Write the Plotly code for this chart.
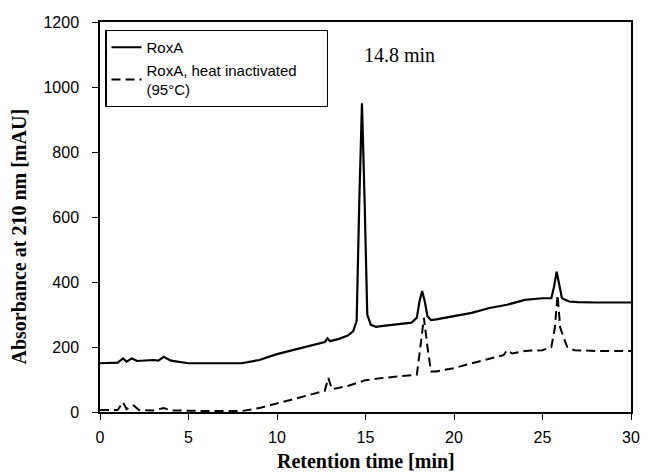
import plotly.graph_objects as go

# RoxA (solid)
t_roxa = [0, 1.0, 1.3, 1.5, 1.8, 2.1, 3.0, 3.3, 3.6, 4.0, 5, 6, 7, 8, 9, 10, 11, 12, 12.7, 12.85, 13.0,
          13.5, 14.0, 14.3, 14.5, 14.65, 14.8, 14.95, 15.1, 15.3, 15.6, 16, 17, 17.6, 17.9, 18.05, 18.2,
          18.35, 18.5, 18.7, 19, 20, 21, 22, 23, 24, 25, 25.5, 25.65, 25.8, 25.95, 26.1, 26.5, 27, 28, 29, 30]
y_roxa = [150, 152, 165, 155, 165, 157, 160, 158, 170, 158, 150, 150, 150, 150, 160, 178, 192, 206, 215, 227, 218,
          225, 235, 248, 280, 650, 950, 650, 300, 268, 262, 265, 270, 275, 290, 340, 372,
          340, 295, 283, 285, 295, 305, 320, 330, 345, 350, 350, 385, 432, 385, 350, 340, 338, 337, 337, 337]

# RoxA, heat inactivated (dashed)
t_heat = [0, 1.0, 1.3, 1.5, 1.9, 2.2, 3.0, 3.6, 4.0, 5, 6, 7, 8, 9, 10, 11, 12, 12.7, 12.9, 13.1, 14, 15, 16,
          17, 17.9, 18.1, 18.3, 18.5, 18.7, 19, 20, 21, 22, 22.8, 23.0, 23.3, 24, 25, 25.5, 25.7, 25.85,
          26.0, 26.2, 26.4, 26.8, 28, 30]
y_heat = [6, 6, 30, 9, 20, 6, 5, 12, 5, 3, 3, 3, 3, 12, 26, 42, 56, 65, 105, 70, 80, 98, 105,
          110, 115, 200, 290, 200, 125, 125, 135, 150, 165, 175, 190, 180, 188, 190, 200, 260, 360,
          260, 228, 200, 190, 188, 188]

x_ticks = [0, 5, 10, 15, 20, 25, 30]
y_ticks = [0, 200, 400, 600, 800, 1000, 1200]

fig = go.Figure()
fig.add_trace(go.Scatter(x=t_roxa, y=y_roxa, mode="lines", name="RoxA",
                         line=dict(color="black", width=2.2, dash="solid")))
fig.add_trace(go.Scatter(x=t_heat, y=y_heat, mode="lines",
                         name="RoxA, heat inactivated\u00a0\u00a0\u00a0\u00a0\u00a0\u00a0<br>(95°C)",
                         line=dict(color="black", width=2, dash="9px,5px")))

fig.add_annotation(x=16.9, y=1100, xref="x", yref="y", text="14.8 min", showarrow=False,
                   xanchor="center", yanchor="middle",
                   font=dict(family="Liberation Serif", size=20, color="black"))

# axis titles as annotations for precise placement
fig.add_annotation(x=0.5, y=0, xref="paper", yref="paper", yshift=-49, text="<b>Retention time [min]</b>",
                   showarrow=False, xanchor="center", yanchor="middle",
                   font=dict(family="Liberation Serif", size=20, color="black"))
fig.add_annotation(x=0, y=0.45, xref="paper", yref="paper", xshift=-82, text="<b>Absorbance at 210 nm [mAU]</b>",
                   showarrow=False, xanchor="center", yanchor="middle", textangle=-90,
                   font=dict(family="Liberation Serif", size=20, color="black"))

axis_common = dict(showline=True, linecolor="black", linewidth=1.5, mirror=True,
                   ticks="outside", ticklen=6, tickcolor="black", tickwidth=1,
                   showgrid=False, zeroline=False,
                   tickfont=dict(family="Liberation Sans", size=16, color="black"))

fig.update_xaxes(range=[0, 30], tickvals=x_ticks, ticklabelstandoff=4, **axis_common)
fig.update_yaxes(range=[0, 1200], tickvals=y_ticks, ticklabelstandoff=10, **axis_common)

fig.update_layout(width=652, height=473, margin=dict(l=100, r=12, t=22, b=61),
                  plot_bgcolor="white", paper_bgcolor="white", showlegend=True,
                  legend=dict(x=0.01, y=0.98, xanchor="left", yanchor="top",
                              bordercolor="black", borderwidth=1.2, bgcolor="white",
                              font=dict(family="Liberation Sans", size=15, color="black"),
                              tracegroupgap=0, itemwidth=30))

fig.write_html("out.html")
